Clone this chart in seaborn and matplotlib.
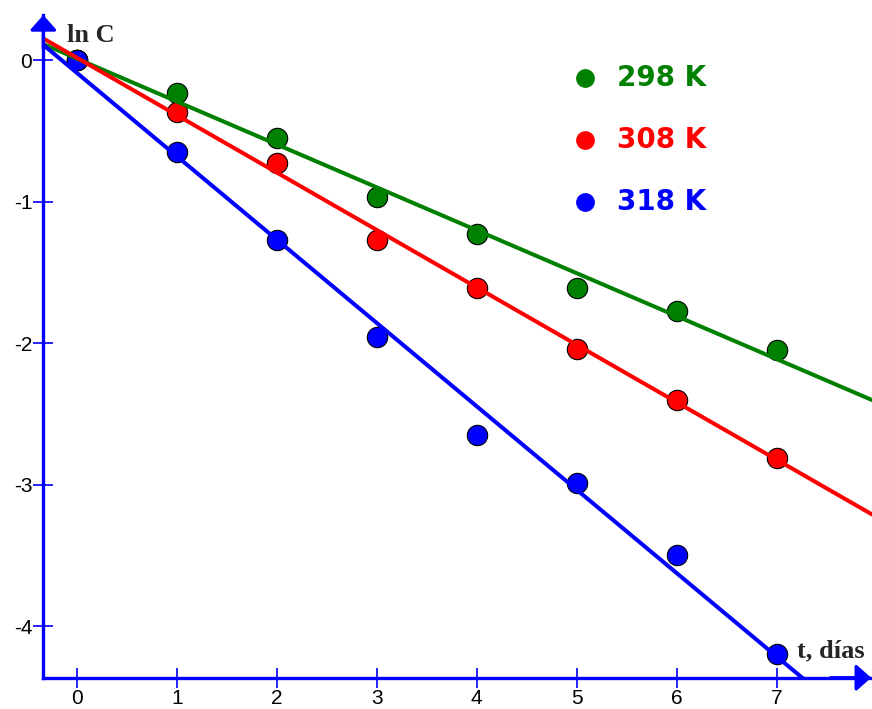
import matplotlib.pyplot as plt
import numpy as np
import pandas as pd
import seaborn as sns

# days and ln C values
days = [0, 1, 2, 3, 4, 5, 6, 7]
ln_c_298 = [0.0, -0.23, -0.55, -0.97, -1.23, -1.61, -1.77, -2.05]
ln_c_308 = [0.0, -0.37, -0.73, -1.27, -1.61, -2.04, -2.40, -2.81]
ln_c_318 = [0.0, -0.65, -1.27, -1.96, -2.65, -2.99, -3.50, -4.20]

series_labels = ['298 K', '308 K', '318 K']
series_colors = ['#008000', '#ff0000', '#0000ff']
x_ticks = [0, 1, 2, 3, 4, 5, 6, 7]
y_ticks = [0, -1, -2, -3, -4]


def main():
    sns.set_style('white')
    plt.rcParams['font.family'] = ['Liberation Sans', 'DejaVu Sans']
    plt.rcParams['axes.unicode_minus'] = False

    df = pd.DataFrame({
        't': days * 3,
        'lnC': ln_c_298 + ln_c_308 + ln_c_318,
        'T': np.repeat(series_labels, len(days)),
    })

    fig = plt.figure(figsize=(8.72, 7.09), dpi=100)
    ax = fig.add_axes([0.0497, 0.0441, 0.9503, 0.9347])
    ax.set_xlim(-0.334, 7.953)
    ax.set_ylim(-4.365, 0.318)

    for label, color in zip(series_labels, series_colors):
        sub = df[df['T'] == label]
        sns.regplot(data=sub, x='t', y='lnC', ax=ax, ci=None, truncate=False,
                    color=color,
                    scatter_kws=dict(s=215, color=color, edgecolor='black',
                                     linewidths=0.8, alpha=1, zorder=1),
                    line_kws=dict(lw=2.9, color=color, zorder=2))

    ax.set_xlim(-0.334, 7.953)
    ax.set_ylim(-4.365, 0.318)
    ax.set_xlabel('')
    ax.set_ylabel('')

    # axis look: blue lines with arrows
    for side in ['top', 'right']:
        ax.spines[side].set_visible(False)
    for side in ['left', 'bottom']:
        ax.spines[side].set_color('blue')
        ax.spines[side].set_linewidth(2.4)
    ax.set_xticks(x_ticks)
    ax.set_yticks(y_ticks)
    ax.tick_params(axis='both', bottom=True, left=True, direction='inout',
                   length=14, width=1.2, color='blue', labelsize=15, pad=1,
                   labelcolor='black')

    arrow = dict(arrowstyle='-|>,head_length=0.45,head_width=0.4', color='blue',
                 lw=2.4, mutation_scale=20, shrinkA=0, shrinkB=0)
    ax.annotate('', xy=(0, 1.0), xytext=(0, 0.95), xycoords='axes fraction',
                arrowprops=arrow, annotation_clip=False)
    ax.annotate('', xy=(0.999, 0), xytext=(0.95, 0), xycoords='axes fraction',
                arrowprops=arrow, annotation_clip=False)

    serif = ['Liberation Serif', 'DejaVu Serif']
    ax.text(-0.097, 0.127, 'ln C', family=serif, fontweight='bold',
            fontsize=19, va='baseline', ha='left')
    ax.text(7.203, -4.219, 't, días', family=serif, fontweight='bold',
            fontsize=19, va='baseline', ha='left')

    # legend drawn by hand
    legend_y = [0.905, 0.811, 0.718]
    for label, color, ly in zip(series_labels, series_colors, legend_y):
        ax.plot(0.6537, ly, 'o', ms=12.5, color=color, transform=ax.transAxes,
                clip_on=False)
        ax.text(0.6923, ly, label, color=color, transform=ax.transAxes,
                family=['DejaVu Sans'], fontweight='bold', fontsize=20,
                va='center', ha='left')

    fig.savefig('out.png', dpi=100)


if __name__ == '__main__':
    main()
